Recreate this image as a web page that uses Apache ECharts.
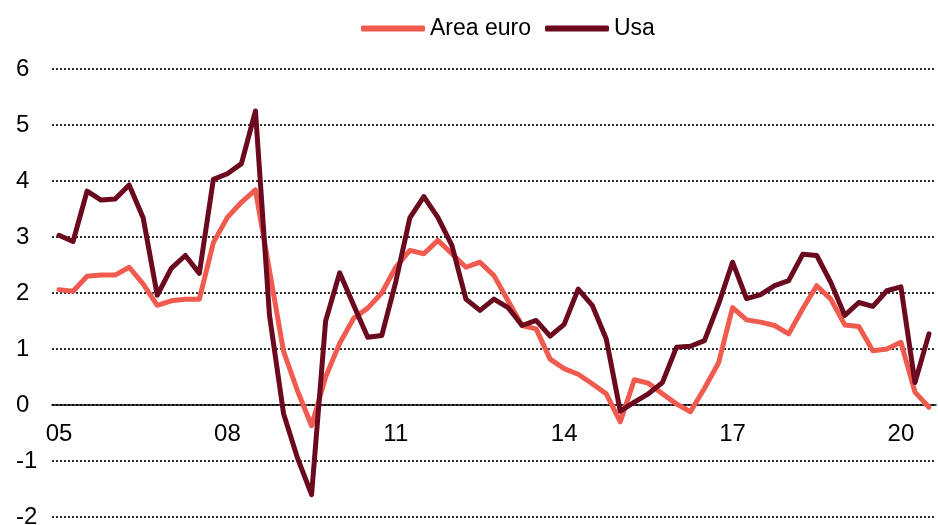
<!DOCTYPE html>
<html>
<head>
<meta charset="utf-8">
<script src="https://cdn.jsdelivr.net/npm/echarts@6/dist/echarts.min.js"></script>
<style>html,body{margin:0;padding:0;background:#fff}#c{width:938px;height:525px}</style>
</head>
<body>
<div id="c"></div>
<script>
// Quarterly categories 2005 Q1 .. 2020 Q3
var years = ['05','06','07','08','09','10','11','12','13','14','15','16','17','18','19','20'];
var categories = [];
years.forEach(function (y) { ['Q1','Q2','Q3','Q4'].forEach(function (q) { categories.push(y + ' ' + q); }); });
categories = categories.slice(0, 63);

var seriesNames = ['Area euro', 'Usa'];

var areaEuro = [2.06,2.03,2.30,2.32,2.32,2.46,2.16,1.78,1.86,1.89,1.89,2.90,3.35,3.62,3.84,2.40,
  0.96,0.25,-0.37,0.50,1.10,1.55,1.73,2.00,2.46,2.76,2.70,2.94,2.70,2.46,2.55,2.31,
  1.86,1.42,1.36,0.82,0.65,0.55,0.38,0.20,-0.30,0.45,0.39,0.20,0.02,-0.12,0.30,0.75,
  1.74,1.52,1.48,1.42,1.27,1.72,2.13,1.89,1.43,1.40,0.97,1.00,1.12,0.23,-0.04];

var usa = [3.03,2.92,3.82,3.66,3.68,3.93,3.34,1.96,2.44,2.67,2.35,4.03,4.13,4.31,5.25,1.60,
  -0.15,-0.95,-1.60,1.50,2.36,1.78,1.21,1.24,2.20,3.34,3.72,3.35,2.85,1.89,1.69,1.89,
  1.74,1.42,1.51,1.23,1.44,2.07,1.78,1.18,-0.11,0.05,0.20,0.40,1.03,1.05,1.15,1.80,
  2.55,1.90,1.97,2.13,2.22,2.69,2.67,2.19,1.60,1.83,1.76,2.04,2.11,0.40,1.27];

var yMin = -2, yMax = 6, yStep = 1;

var W = 938, H = 525, gTop = 69, gBottom = 8;
var plotH = H - gTop - gBottom;
var zeroOffset = -plotH * (0 - yMin) / (yMax - yMin);

var chart = echarts.init(document.getElementById('c'), null, { renderer: 'canvas' });
var font = 'Liberation Sans, Arial, sans-serif';
chart.setOption({
  animation: false,
  color: ['#F05A4F', '#6B0A1E'],
  legend: {
    data: seriesNames,
    left: 356,
    top: 12,
    icon: 'roundRect',
    itemWidth: 64,
    itemHeight: 6,
    itemGap: 14,
    textStyle: { fontFamily: font, fontSize: 23, color: '#000' }
  },
  grid: { left: 52, right: 2, top: gTop, bottom: gBottom, containLabel: false, outerBoundsMode: 'none' },
  xAxis: {
    type: 'category',
    data: categories,
    boundaryGap: true,
    position: 'bottom',
    offset: zeroOffset,
    axisLine: { show: true, onZero: false, lineStyle: { color: '#000', width: 1.5 } },
    axisTick: { show: false },
    axisLabel: {
      interval: 11,
      margin: 17,
      fontFamily: font,
      fontSize: 24,
      color: '#000',
      formatter: function (v) { return v.split(' ')[0]; }
    },
    splitLine: { show: false }
  },
  yAxis: {
    type: 'value',
    min: yMin,
    max: yMax,
    interval: yStep,
    axisLine: { show: false },
    axisTick: { show: false },
    axisLabel: {
      align: 'left',
      margin: 36,
      fontFamily: font,
      fontSize: 24,
      color: '#000'
    },
    splitLine: { show: true, lineStyle: { color: '#000', width: 1.6, type: [2, 2] } }
  },
  series: [
    {
      name: seriesNames[0], type: 'line', data: areaEuro, symbol: 'none',
      lineStyle: { width: 5, color: '#F05A4F', cap: 'round', join: 'round' }, z: 2
    },
    {
      name: seriesNames[1], type: 'line', data: usa, symbol: 'none',
      lineStyle: { width: 5, color: '#6B0A1E', cap: 'round', join: 'round' }, z: 3
    }
  ]
});
</script>
</body>
</html>
